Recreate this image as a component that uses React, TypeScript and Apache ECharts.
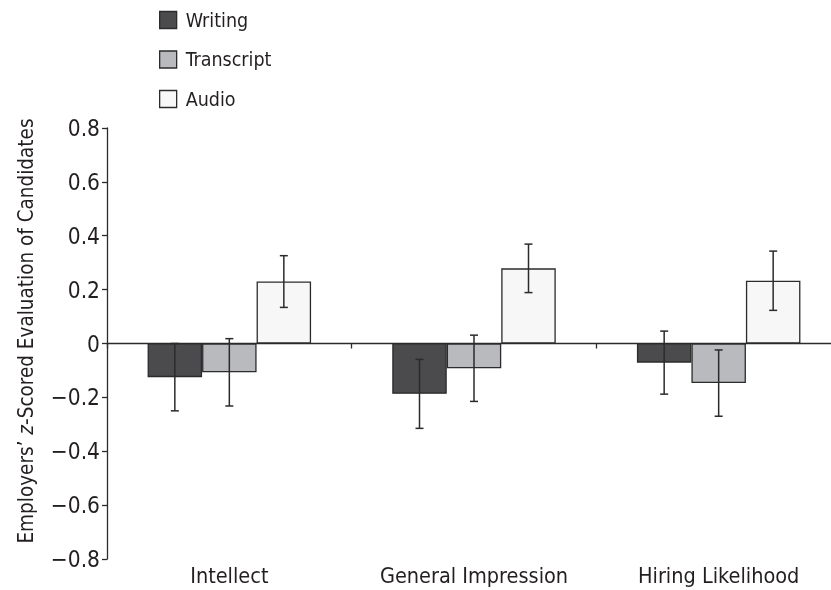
import React, { useEffect, useRef } from "react";
import * as echarts from "echarts";

const categories = ["Intellect", "General Impression", "Hiring Likelihood"];
const seriesNames = ["Writing", "Transcript", "Audio"];
const writing = [-0.125, -0.187, -0.071];
const transcript = [-0.107, -0.092, -0.147];
const audio = [0.23, 0.279, 0.233];
const writingErr = [0.125, 0.128, 0.117];
const transcriptErr = [0.125, 0.123, 0.123];
const audioErr = [0.096, 0.09, 0.11];
const yTicks = [-0.8, -0.6, -0.4, -0.2, 0, 0.2, 0.4, 0.6, 0.8];

const FONT = "'DejaVu Sans Condensed', 'Liberation Sans', sans-serif";
const TEXT = "#231f20";
const LINE = "#2b2b2b";
const colors = ["#4b4b4d", "#b9babd", "#f7f7f7"];
const BAR_W = 54.5;

function fmt(v: number): string {
  if (Math.abs(v) < 1e-9) return "0";
  const s = Math.abs(v).toFixed(1);
  return v < 0 ? "\u2212" + s : s;
}

export default function App() {
  const ref = useRef<HTMLDivElement>(null);
  useEffect(() => {
    if (!ref.current) return;
    const chart = echarts.init(ref.current, undefined, { renderer: "svg" });
    const means = [writing, transcript, audio];
    const errs = [writingErr, transcriptErr, audioErr];

    const barSeries = seriesNames.map((name, i) => ({
      name,
      type: "bar",
      xAxisIndex: 0,
      barWidth: BAR_W,
      barGap: "0%",
      data: means[i],
      itemStyle: { color: colors[i], borderColor: LINE, borderWidth: 1.3 },
      z: 2,
    }));

    const errSeries = seriesNames.map((name, i) => ({
      name: name + " error",
      type: "custom",
      xAxisIndex: 0,
      z: 5,
      silent: true,
      data: means[i].map((m, k) => [k, m - errs[i][k], m + errs[i][k]]),
      renderItem: (params: any, api: any) => {
        const k = api.value(0);
        const lo = api.coord([k, api.value(1)]);
        const hi = api.coord([k, api.value(2)]);
        const x = lo[0] + (i - 1) * BAR_W;
        const cap = 4;
        const st = { stroke: LINE, lineWidth: 1.5 };
        return {
          type: "group",
          children: [
            { type: "line", shape: { x1: x, y1: hi[1], x2: x, y2: lo[1] }, style: st },
            { type: "line", shape: { x1: x - cap, y1: hi[1], x2: x + cap, y2: hi[1] }, style: st },
            { type: "line", shape: { x1: x - cap, y1: lo[1], x2: x + cap, y2: lo[1] }, style: st },
          ],
        };
      },
    }));

    chart.setOption({
      animation: false,
      textStyle: { fontFamily: FONT, color: TEXT },
      legend: {
        data: seriesNames,
        orient: "vertical",
        left: 159,
        top: 10,
        padding: 0,
        itemWidth: 17,
        itemHeight: 17,
        itemGap: 19.5,
        icon: "rect",
        textStyle: { fontFamily: FONT, fontSize: 19.5, color: TEXT, lineHeight: 20, padding: [0, 0, 0, 4] },
        itemStyle: { borderColor: LINE, borderWidth: 1.3 },
      },
      grid: { left: 107, right: 0, top: 128, bottom: 31, containLabel: false },
      xAxis: [
        {
          type: "category",
          data: categories,
          position: "bottom",
          axisLine: { show: false, onZero: false },
          axisTick: { show: false },
          axisLabel: { fontFamily: FONT, fontSize: 21.5, color: TEXT, margin: 5, interval: 0 },
        },
        {
          type: "category",
          data: categories,
          position: "bottom",
          axisLine: { show: true, onZero: true, lineStyle: { color: LINE, width: 1.3 } },
          axisTick: { show: true, length: 5, lineStyle: { color: LINE, width: 1.3 } },
          axisLabel: { show: false },
        },
      ],
      yAxis: {
        type: "value",
        min: yTicks[0],
        max: yTicks[yTicks.length - 1],
        interval: 0.2,
        axisLine: { show: true, lineStyle: { color: LINE, width: 1.3 } },
        axisTick: { show: true, length: 5, lineStyle: { color: LINE, width: 1.3 } },
        splitLine: { show: false },
        axisLabel: { fontFamily: FONT, fontSize: 22.5, color: TEXT, margin: 7, formatter: (v: number) => fmt(v) },
      },
      graphic: [
        {
          type: "text",
          x: 26,
          y: 331,
          rotation: Math.PI / 2,
          style: {
            text: "{n|Employers\u2019 }{i|z}{n|-Scored Evaluation of Candidates}",
            align: "center",
            verticalAlign: "middle",
            fill: TEXT,
            rich: {
              n: { fontFamily: FONT, fontSize: 20.5, fill: TEXT },
              i: { fontFamily: FONT, fontSize: 20.5, fontStyle: "italic", fill: TEXT },
            },
          },
        },
      ],
      series: [...barSeries, ...errSeries],
    });
    return () => chart.dispose();
  }, []);
  return (
    <div style={{ position: "fixed", left: 0, top: 0, width: 831, height: 590, overflow: "hidden" }}>
      <div ref={ref} style={{ width: 841, height: 590 }} />
    </div>
  );
}
